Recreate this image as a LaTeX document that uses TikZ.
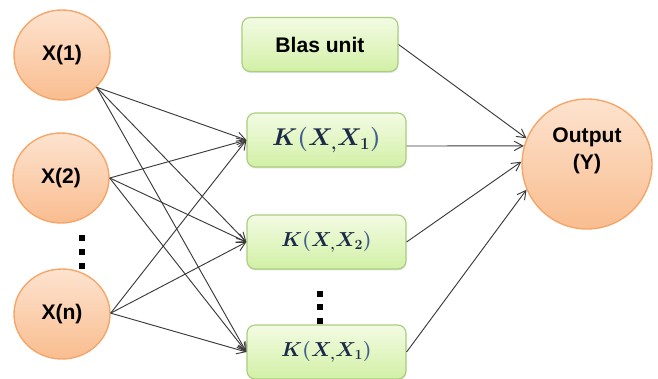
\documentclass[tikz,border=0pt]{standalone}
\usepackage{fontspec}
\setmainfont{Liberation Sans}
\usepackage{bm}
\usetikzlibrary{shapes.geometric,arrows.meta,shadows}
\definecolor{orgline}{HTML}{F5A66A}
\definecolor{orgtop}{HTML}{FDE3CF}
\definecolor{orgbot}{HTML}{F9BD8F}
\definecolor{grnline}{HTML}{A9CF7E}
\definecolor{grntop}{HTML}{F3FBE3}
\definecolor{grnbot}{HTML}{D2F0A6}
\definecolor{navy}{HTML}{1B2A47}
\definecolor{parcol}{HTML}{41608C}
\definecolor{arrcol}{HTML}{3A3A3A}
\newcommand{\kx}[1]{{\boldmath$\color{navy}K\color{parcol}(\color{navy}X_{,}X_{#1}\color{parcol})$}}
\tikzset{
  inode/.style={ellipse, draw=orgline, line width=1.2pt, top color=orgtop, bottom color=orgbot,
     minimum width=2.88cm, minimum height=2.7cm, inner sep=0pt,
     font=\fontsize{18}{22}\selectfont\bfseries},
  onode/.style={circle, draw=orgline, line width=1.2pt, top color=orgtop, bottom color=orgbot,
     minimum size=3.9cm, inner sep=0pt},
  kbox/.style={rectangle, rounded corners=7pt, draw=grnline, line width=1pt, top color=grntop, bottom color=grnbot,
     minimum height=1.62cm, inner sep=0pt,
     drop shadow={shadow xshift=0.4pt, shadow yshift=-1.2pt, opacity=0.25}},
  arr/.style={draw=arrcol, line width=0.8pt, -{Straight Barb[length=2.6mm,width=2.8mm]}},
  dotsq/.style={rectangle, fill=black, minimum size=0.18cm, inner sep=0pt},
  txt/.style={font=\fontsize{18}{23}\selectfont\bfseries, align=center}
}
\begin{document}
\begin{tikzpicture}[x=0.03cm, y=-0.03cm]
\useasboundingbox (0,0) rectangle (658,378);
\begin{scope}
\clip (0,0) rectangle (658,378);
% input nodes
\node[inode] (X1) at (62,55) {X(1)};
\node[inode] (X2) at (61,178) {X(2)};
\node[inode] (Xn) at (62,314) {X(n)};
% boxes
\node[kbox, minimum width=4.68cm, font=\fontsize{18}{22}\selectfont\bfseries] (B) at (320,44.5) {Blas unit};
\node[kbox, minimum width=4.77cm, font=\fontsize{21}{24}\selectfont] (K1) at (326.5,140) {\kx{1}};
\node[kbox, minimum width=4.77cm, font=\fontsize{17.5}{20}\selectfont] (K2) at (326.5,242) {\kx{2}};
\node[kbox, minimum width=4.77cm, font=\fontsize{17.5}{20}\selectfont] (K3) at (326.5,352) {\kx{1}};
% output
\node[onode] (Out) at (587,164) {};
\node[txt] (OutT) at (587,151) {Output\\(Y)};
% dots
\node[dotsq] (d1) at (82,238) {};
\node[dotsq] (d2) at (82,252) {};
\node[dotsq] (d3) at (82,266) {};
\node[dotsq] (e1) at (320,293.5) {};
\node[dotsq] (e2) at (320,307) {};
\node[dotsq] (e3) at (320,321) {};
% input arrows
\foreach \s/\a in {X1/-43, X2/0, Xn/1}{
  \foreach \t in {K1,K2,K3}{
    \draw[arr] (\s.\a) -- (\t.west);
  }
}
% output arrows
\draw[arr] (B.east) -- (Out.157);
\draw[arr] ([yshift=-0.18cm]K1.east) -- (Out.164);
\draw[arr] (K2.east) -- (Out.178);
\draw[arr] (K3.east) -- (Out.203);
\end{scope}
\end{tikzpicture}
\end{document}
